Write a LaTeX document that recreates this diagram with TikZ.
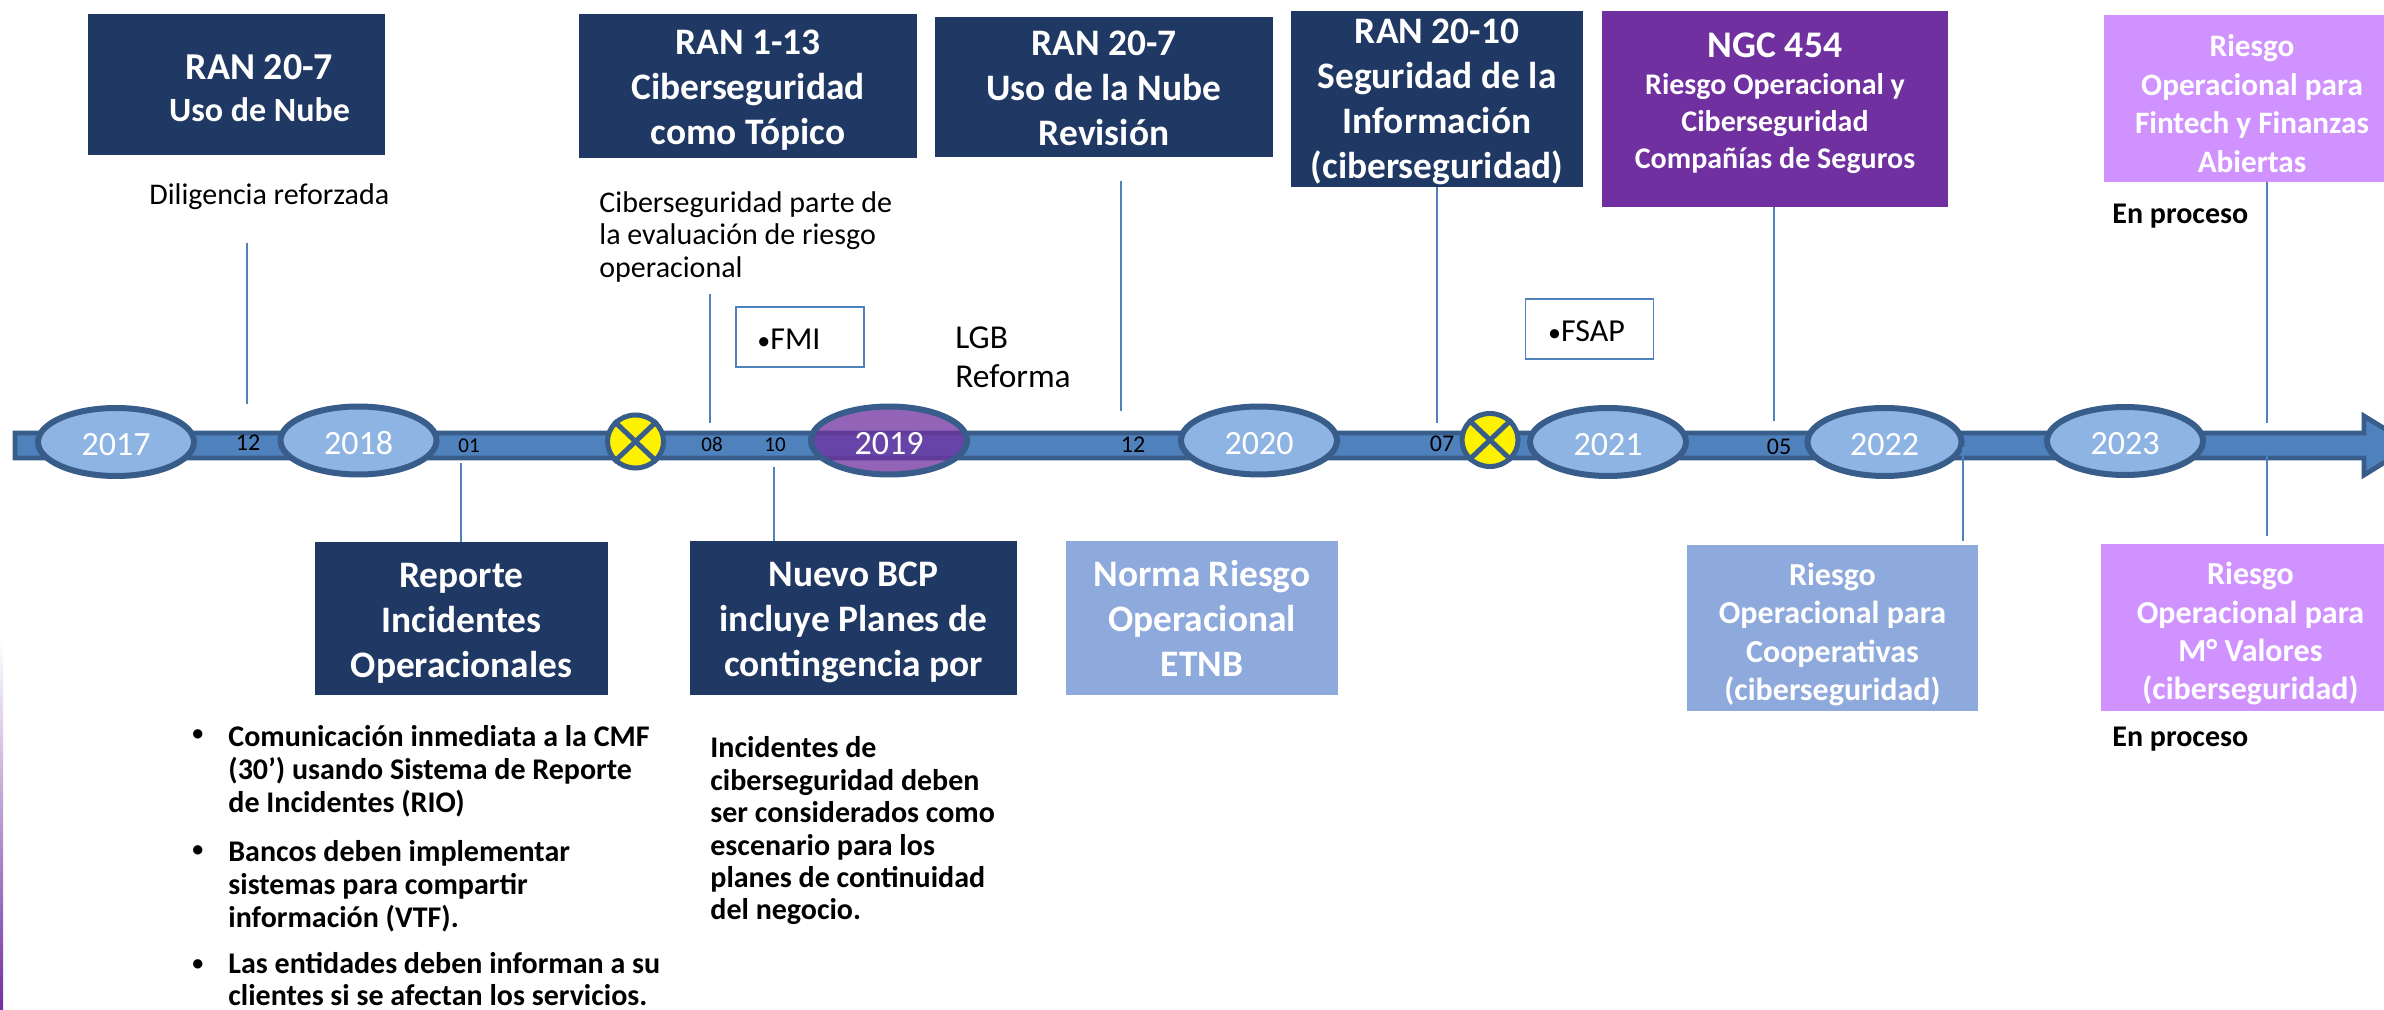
\documentclass[tikz,border=0pt]{standalone}
\usepackage{fontspec}
\setmainfont{Carlito}
\usetikzlibrary{shapes.geometric}
\definecolor{navy}{HTML}{1F3864}
\definecolor{violet}{HTML}{7030A0}
\definecolor{lilac}{HTML}{D092FF}
\definecolor{sky}{HTML}{8EA9DB}
\definecolor{ovalfill}{HTML}{8EB4E3}
\definecolor{edge}{HTML}{385D8A}
\definecolor{barfill}{HTML}{4F81BD}
\newcommand{\fs}[2]{\fontsize{#1}{#2}\selectfont}
\newcommand{\smallbullet}{{\fontsize{13}{13}\selectfont •}}
\newcommand{\up}[1]{\rule{0pt}{#1}}
\tikzset{
  lift/.style={execute at begin node={\rule{0pt}{#1}}},
  card/.style={rectangle,inner sep=0pt,text=white,font=\bfseries\fs{18.7}{22.5},align=center},
  navycard/.style={card,fill=navy},
  skycard/.style={card,fill=sky},
  lilaccard/.style={card,fill=lilac},
  year/.style={ellipse,draw=edge,line width=3pt,fill=ovalfill,inner sep=0pt,text=white,font=\fs{17}{19},lift=14pt},
  stopmark/.style={ellipse,draw=edge,line width=2.5pt,fill=yellow,inner sep=0pt,minimum width=28pt,minimum height=26.5pt},
  month/.style={inner sep=0pt,text=black},
  link/.style={draw=barfill,line width=0.8pt},
  note/.style={inner sep=0pt,anchor=west,align=left,text=black,font=\fs{15}{16.4}},
  boldnote/.style={note,font=\bfseries\fs{15}{16.4}},
  tag/.style={rectangle,draw=barfill,line width=0.8pt,fill=white,inner sep=0pt,minimum width=64pt,minimum height=30pt,font=\fs{16}{18},lift=13pt}
}
\begin{document}
\begin{tikzpicture}[x=0.5pt,y=-0.5pt]
\useasboundingbox (0,0) rectangle (2384,1010);
\clip (0,0) rectangle (2384,1010);
\fill[white] (0,0) rectangle (2384,1010);
\shade[top color=white,bottom color=violet] (0,640) rectangle (3,1010);
% timeline arrow
\draw[edge,line width=2.4pt,fill=barfill,miter limit=10]
  (15,433) -- (2364,433) -- (2364,416) -- (2412,445.5) -- (2364,475) -- (2364,458) -- (15,458) -- cycle;
% years
\node[year,minimum width=78pt,minimum height=34pt] (y17) at (116,442) {2017};
\node[year,minimum width=78pt,minimum height=34pt] (y18) at (358.5,440.5) {2018};
\node[year,minimum width=78pt,minimum height=34pt,fill=violet,fill opacity=0.75,text opacity=1] (y19) at (889,440.5) {2019};
\node[year,minimum width=78pt,minimum height=34pt] (y20) at (1259,440.5) {2020};
\node[year,minimum width=78pt,minimum height=34pt] (y21) at (1608,442) {2021};
\node[year,minimum width=77pt,minimum height=34pt] (y22) at (1884.5,442) {2022};
\node[year,minimum width=78pt,minimum height=34pt] (y23) at (2125,441) {2023};
% stop marks
\node[stopmark] (s1) at (635.5,441.5) {};
\node[stopmark] (s2) at (1490,440) {};
\draw[edge,line width=2.5pt] (s1.north west) -- (s1.south east) (s1.north east) -- (s1.south west);
\draw[edge,line width=2.5pt] (s2.north west) -- (s2.south east) (s2.north east) -- (s2.south west);
% months
\node[month,font=\fs{12}{14}] (m1) at (248,443) {12};
\node[month,font=\fs{10.5}{12}] (m2) at (469,446) {01};
\node[month,font=\fs{10.5}{12}] (m3) at (712,444) {08};
\node[month,font=\fs{10.5}{12}] (m4) at (775,445) {10};
\node[month,font=\fs{12}{14}] (m5) at (1133,445) {12};
\node[month,font=\fs{12}{14}] (m6) at (1442,444) {07};
\node[month,font=\fs{12}{14}] (m7) at (1779,447) {05};
% top cards
\node[navycard,font=\bfseries\fs{19}{21.3},minimum width=148.5pt,minimum height=70.5pt] (a) at (236.5,84.5)
  {\up{16pt}\hspace*{23pt}RAN 20-7\\\hspace*{23pt}\fs{17}{21}Uso de Nube};
\node[navycard,minimum width=169pt,minimum height=72pt] (b) at (748,86) {\up{16.6pt}RAN 1-13\\Ciberseguridad\\como Tópico};
\node[navycard,minimum width=169pt,minimum height=70pt] (c) at (1104,87) {\up{13.5pt}RAN 20-7\\Uso de la Nube\\Revisión};
\node[navycard,minimum width=146pt,minimum height=88pt] (d) at (1437,99) {\up{15pt}RAN 20-10\\Seguridad de la\\Información\\(ciberseguridad)};
\node[card,fill=violet,font=\bfseries\fs{18.8}{18.6},minimum width=173pt,minimum height=98pt] (e) at (1775,109)
  {NGC 454\\\fs{15}{18.5}Riesgo Operacional y\\\fs{15}{18.5}Ciberseguridad\\\fs{15}{18.5}Compañías de Seguros\rule[-8.5pt]{0pt}{8.5pt}};
\node[lilaccard,font=\bfseries\fs{15.6}{19.3},minimum width=148pt,minimum height=83.5pt] (f) at (2252,98.5)
  {\up{16.3pt}Riesgo\\Operacional para\\Fintech y Finanzas\\Abiertas};
% bottom cards
\node[navycard,minimum width=146.5pt,minimum height=76.5pt] (g) at (461.5,618.5) {\up{16.6pt}Reporte\\Incidentes\\Operacionales};
\node[navycard,minimum width=163.5pt,minimum height=77pt] (h) at (853.5,618) {\up{16.6pt}Nuevo BCP\\incluye Planes de\\contingencia por};
\node[skycard,minimum width=136pt,minimum height=77pt] (i) at (1202,618) {\up{13.5pt}Norma Riesgo\\Operacional\\ETNB};
\node[skycard,font=\bfseries\fs{16}{19.2},minimum width=145.5pt,minimum height=83pt] (j) at (1832.5,628)
  {\up{17.6pt}Riesgo\\Operacional para\\Cooperativas\\(ciberseguridad)};
\node[lilaccard,font=\bfseries\fs{16}{19.2},minimum width=149.5pt,minimum height=83.5pt] (k) at (2250.5,627.5)
  {\up{17.6pt}Riesgo\\Operacional para\\M° Valores\\(ciberseguridad)};
% tags
\node[tag] (fmi) at (800,337) {\smallbullet FMI\hspace*{11pt}};
\node[tag] (fsap) at (1589.5,329) {\smallbullet FSAP\hspace*{3pt}};
% notes
\node[note] (n1) at (149,197) {Diligencia reforzada};
\node[note] (n2) at (599,237) {Ciberseguridad parte de\\la evaluación de riesgo\\operacional};
\node[note,font=\fs{16.7}{19.5}] (n3) at (955,357) {LGB\\Reforma};
\node[boldnote] (n4) at (2112,216) {En proceso};
\node[boldnote] (n5) at (2112,739) {En proceso};
\node[boldnote,font=\bfseries\fs{15}{16.2}] (n6) at (710,831) {Incidentes de\\ciberseguridad deben\\ser considerados como\\escenario para los\\planes de continuidad\\del negocio.};
\node[boldnote] (t1) at (228,771) {Comunicación inmediata a la CMF\\(30’) usando Sistema de Reporte\\de Incidentes (RIO)};
\node[boldnote] (t2) at (228,886) {Bancos deben implementar\\sistemas para compartir\\información (VTF).};
\node[boldnote] (t3) at (228,979) {Las entidades deben informan a su\\clientes si se afectan los servicios.};
\node[boldnote,font=\bfseries\fs{11}{12}] (b1) at (192,735) {•};
\node[boldnote,font=\bfseries\fs{11}{12}] (b2) at (192,851) {•};
\node[boldnote,font=\bfseries\fs{11}{12}] (b3) at (192,965) {•};
% connector ends
\coordinate (p1) at (247,243); \coordinate (q1) at (247,404);
\coordinate (q2) at (461,463);
\coordinate (q3) at (710,294); \coordinate (r3) at (710,423);
\coordinate (q4) at (774,467);
\coordinate (q5) at (1121,181); \coordinate (r5) at (1121,411);
\coordinate (r6) at (1437,423);
\coordinate (r7) at (1774,421);
\coordinate (q8) at (1963,447); \coordinate (r8) at (1963,541);
\coordinate (r9) at (2267,423);
\coordinate (q10) at (2267,442); \coordinate (r10) at (2267,536);
\draw[link] (p1) -- (q1);
\draw[link] (q2) -- (q2 |- g.north);
\draw[link] (q3) -- (r3);
\draw[link] (q4) -- (q4 |- h.north);
\draw[link] (q5) -- (r5);
\draw[link] (r6 |- d.south) -- (r6);
\draw[link] (r7 |- e.south) -- (r7);
\draw[link] (q8) -- (r8);
\draw[link] (r9 |- f.south) -- (r9);
\draw[link] (q10) -- (r10);
\end{tikzpicture}
\end{document}
